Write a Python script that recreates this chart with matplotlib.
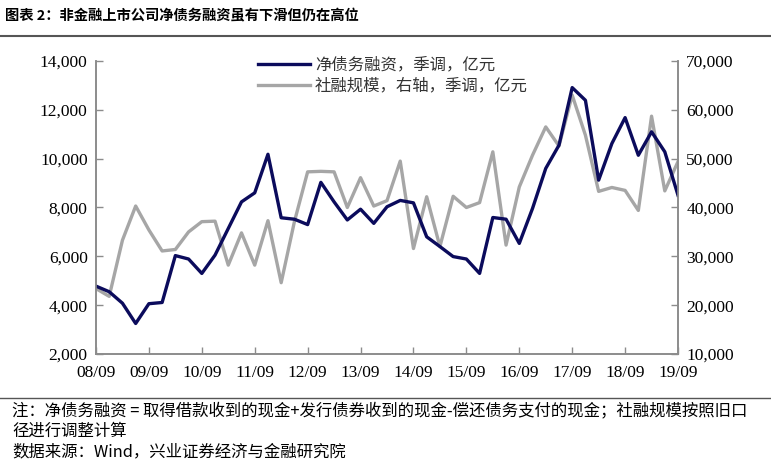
import matplotlib.pyplot as plt
import matplotlib.lines as mlines
import numpy as np
from matplotlib.ticker import FuncFormatter

plt.rcParams['font.family'] = ['Liberation Serif', 'Noto Sans CJK SC']

# quarterly data, 2008Q3 .. 2019Q3
quarters = np.arange(45)
tick_labels = ['08/09', '09/09', '10/09', '11/09', '12/09', '13/09', '14/09',
               '15/09', '16/09', '17/09', '18/09', '19/09']

# net debt financing, seasonally adjusted, 100m yuan (left axis)
net_debt = [4780, 4550, 4080, 3250, 4060, 4110, 6030, 5890, 5300, 6050,
            7140, 8230, 8600, 10180, 7580, 7520, 7300, 9030, 8230, 7490,
            7930, 7350, 8030, 8290, 8190, 6800, 6400, 5990, 5890, 5300,
            7590, 7520, 6530, 7960, 9600, 10550, 12910, 12390, 9120, 10620,
            11680, 10140, 11100, 10280, 8500]

# total social financing, seasonally adjusted, 100m yuan (right axis)
tsf = [23400, 21800, 33300, 40300, 35400, 31100, 31400, 35000, 37100, 37200,
       28200, 34800, 28200, 37300, 24600, 37100, 47300, 47400, 47300, 40000,
       46100, 40300, 41400, 49500, 31600, 42200, 32000, 42300, 40000, 41000,
       51400, 32300, 44200, 50700, 56500, 52600, 63000, 54800, 43300, 44100,
       43500, 39400, 58700, 43400, 49400]

navy = '#0b0b5c'
grey = '#a6a6a6'
axis_grey = '#8c8c8c'

fig = plt.figure(figsize=(7.71, 4.63), dpi=100)
ax = fig.add_axes([0.1245, 0.2354, 0.7549, 0.6329])
ax2 = ax.twinx()

l1, = ax.plot(quarters, net_debt, color=navy, lw=2.4, label='净债务融资，季调，亿元')
l2, = ax2.plot(quarters, tsf, color=grey, lw=2.4, label='社融规模，右轴，季调，亿元')
ax.set_zorder(ax2.get_zorder() + 1)
ax.patch.set_visible(False)

ax.set_xlim(0, 44)
ax.set_ylim(2000, 14000)
ax2.set_ylim(10000, 70000)
ax.set_yticks(np.arange(2000, 14001, 2000))
ax2.set_yticks(np.arange(10000, 70001, 10000))
ax.set_xticks(np.arange(0, 45, 4))
ax.set_xticklabels(tick_labels)

fmt = FuncFormatter(lambda v, p: f'{int(v):,}')
ax.yaxis.set_major_formatter(fmt)
ax2.yaxis.set_major_formatter(fmt)

for a in (ax, ax2):
    for s in a.spines.values():
        s.set_color(axis_grey)
        s.set_linewidth(1.2)
    a.spines['top'].set_visible(False)
    a.tick_params(direction='in', length=5, width=1, color=axis_grey,
                  labelsize=12.5, labelcolor='black', pad=6)
ax.tick_params(axis='x', pad=8)

leg = ax.legend(handles=[l1, l2], loc='upper center', bbox_to_anchor=(0.51, 1.065),
                frameon=False, handlelength=3.2, handletextpad=0.3,
                labelspacing=0.25, prop={'family': ['Noto Sans CJK SC'], 'size': 11.8})
for t in leg.get_texts():
    t.set_color('#333333')

fig.text(0.006, 0.967, '图表 2：非金融上市公司净债务融资虽有下滑但仍在高位',
         fontsize=10.3, fontweight='bold', family=['Noto Sans CJK SC'],
         va='center', ha='left')
fig.add_artist(mlines.Line2D([0, 1], [0.922, 0.922], color='#555555', lw=1.5))
fig.add_artist(mlines.Line2D([0, 1], [0.140, 0.140], color='#555555', lw=1.0))

note_font = ['Noto Sans CJK SC', 'Liberation Serif']
fig.text(0.016, 0.113, '注：净债务融资 = 取得借款收到的现金+发行债券收到的现金-偿还债务支付的现金；社融规模按照旧口',
         fontsize=11.8, family=note_font, va='center')
fig.text(0.016, 0.069, '径进行调整计算', fontsize=11.8, family=note_font, va='center')
fig.text(0.016, 0.024, '数据来源：Wind，兴业证券经济与金融研究院', fontsize=11.8, family=note_font, va='center')

fig.savefig('out.png', dpi=100)
